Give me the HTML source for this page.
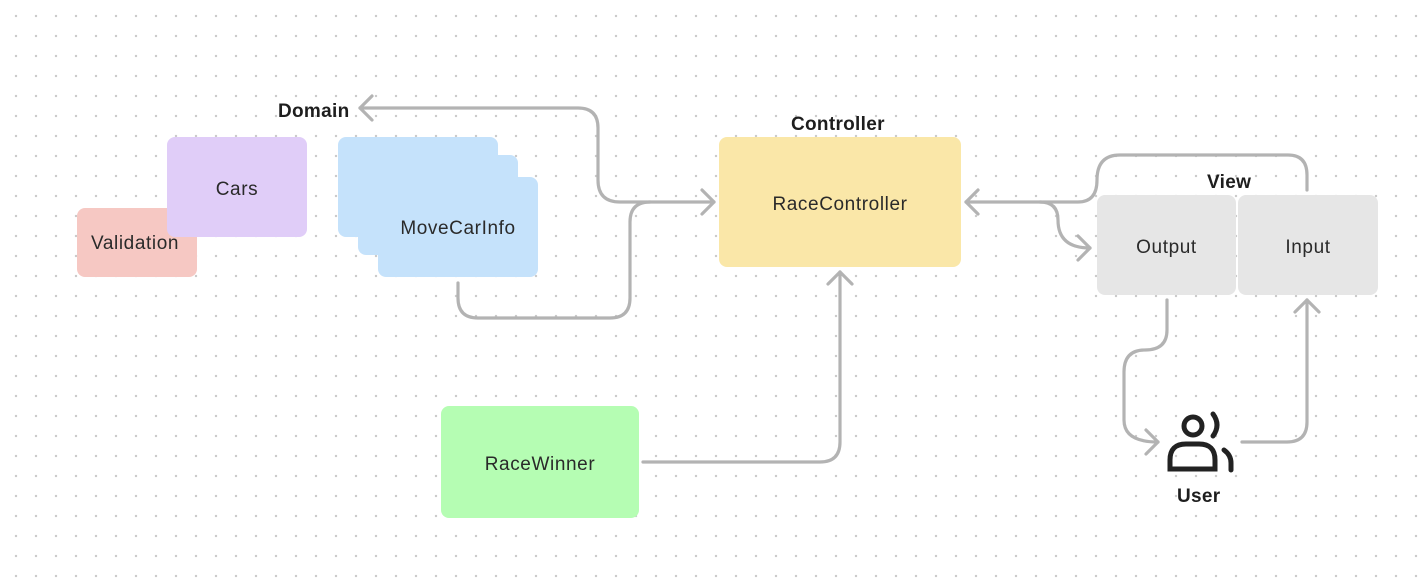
<!DOCTYPE html>
<html><head><meta charset="utf-8"><style>
body{margin:0;width:1427px;height:581px;overflow:hidden;background:#fff;font-family:"Liberation Sans",sans-serif;}
.bg{position:absolute;left:0;top:0;width:1427px;height:581px;background-image:radial-gradient(circle,#c9c9c9 1px,transparent 1.4px);background-size:20px 20px;background-position:6px 6px;}
.b{position:absolute;border-radius:8px;display:flex;align-items:center;justify-content:center;font-size:19px;letter-spacing:0.6px;color:#2a2a2a;padding-top:5px;box-sizing:border-box;}
.t{position:absolute;font-size:19px;letter-spacing:0.6px;color:#2a2a2a;}
.l{position:absolute;font-weight:bold;font-size:19px;letter-spacing:0.3px;color:#1e1e1e;}
svg{position:absolute;left:0;top:0;}
</style></head><body>
<div class="bg"></div>
<div class="b" style="left:77px;top:208px;width:120px;height:69px;background:#f6c8c3;"></div>
<div class="b" style="left:167px;top:137px;width:140px;height:100px;background:#e0cdf8;">Cars</div>
<div class="t" style="left:91px;top:233px;">Validation</div>
<div class="b" style="left:338px;top:137px;width:160px;height:100px;background:#c5e2fb;"></div>
<div class="b" style="left:358px;top:155px;width:160px;height:100px;background:#c5e2fb;"></div>
<div class="b" style="left:378px;top:177px;width:160px;height:100px;background:#c5e2fb;"></div>
<div class="t" style="left:338px;top:218px;width:240px;text-align:center;">MoveCarInfo</div>
<div class="b" style="left:719px;top:137px;width:242px;height:130px;background:#fae7a8;">RaceController</div>
<div class="b" style="left:441px;top:406px;width:198px;height:112px;background:#b5fdb3;">RaceWinner</div>
<div class="b" style="left:1097px;top:195px;width:139px;height:100px;background:#e6e6e6;">Output</div>
<div class="b" style="left:1238px;top:195px;width:140px;height:100px;background:#e6e6e6;">Input</div>
<div class="l" style="left:278px;top:101px;">Domain</div>
<div class="l" style="left:791px;top:114px;">Controller</div>
<div class="l" style="left:1207px;top:172px;">View</div>
<div class="l" style="left:1177px;top:486px;">User</div>
<svg width="1427" height="581" fill="none" stroke="#b3b3b3" stroke-width="3.2" stroke-linecap="round" stroke-linejoin="round">
<path d="M360 108 H578 Q598 108 598 128 V180 Q598 202 620 202 H714"/>
<path d="M372 96 L360 108 L372 120"/>
<path d="M702 190 L714 202 L702 214"/>
<path d="M458 283 V298 Q458 318 478 318 H610 Q630 318 630 298 V222 Q630 202 650 202"/>
<path d="M643 462 H820 Q840 462 840 442 V272"/>
<path d="M828 284 L840 272 L852 284"/>
<path d="M966 202 H1078 Q1097 202 1097 180 Q1097 155 1120 155 H1288 Q1307 155 1307 175 V190"/>
<path d="M978 190 L966 202 L978 214"/>
<path d="M1040 202 Q1058 202 1058 220 Q1058 248 1090 248"/>
<path d="M1078 236 L1090 248 L1078 260"/>
<path d="M1167 300 V330 Q1167 350 1145 350 Q1124 350 1124 372 V420 Q1124 442 1158 442"/>
<path d="M1146 430 L1158 442 L1146 454"/>
<path d="M1242 442 H1287 Q1307 442 1307 422 V300"/>
<path d="M1295 312 L1307 300 L1319 312"/>
</svg>
<svg width="1427" height="581" fill="none" stroke="#222" stroke-width="5" stroke-linecap="round">
<circle cx="1193" cy="426" r="9"/>
<path d="M1170 469 V460 Q1170 444 1186 444 H1199 Q1215 444 1215 460 V469 Z"/>
<path d="M1213 414 Q1221 425 1213 436"/>
<path d="M1224 450 Q1231 455 1231 463 V470"/>
</svg>
</body></html>
